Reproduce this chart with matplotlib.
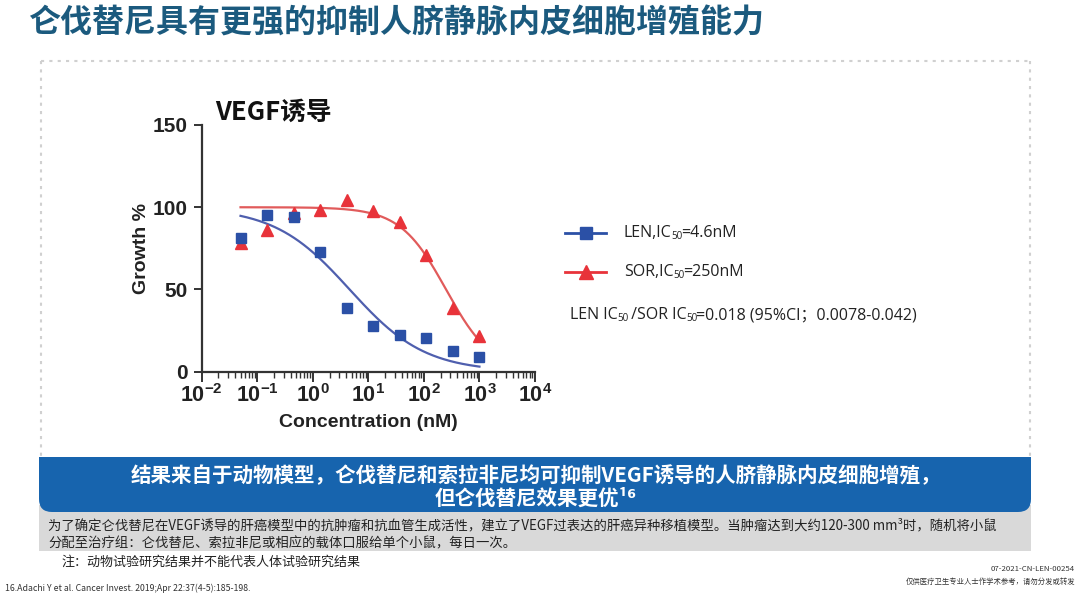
import numpy as np
import matplotlib
matplotlib.use("Agg")
import matplotlib.pyplot as plt
from matplotlib.patches import FancyBboxPatch, Rectangle
from matplotlib.ticker import FixedLocator, NullFormatter

plt.rcParams['font.family'] = ['Noto Sans CJK SC', 'DejaVu Sans']
plt.rcParams['mathtext.fontset'] = 'custom'
plt.rcParams['mathtext.rm'] = 'Liberation Sans'
plt.rcParams['mathtext.bf'] = 'Liberation Sans:bold'

# ---- data ----
conc = [0.05, 0.15, 0.45, 1.37, 4.1, 12.3, 37, 111, 333, 1000]
len_growth = [81, 95.3, 94.3, 72.6, 39, 27.8, 22.3, 20.3, 12.8, 9.1]
sor_growth = [78, 86, 96.3, 98.4, 104.5, 97.6, 90.9, 71, 39, 21.9]
# fitted curve parameters (4PL): top, bottom, IC50, hill
len_fit = dict(top=100, bottom=0, ic50=4.6, hill=0.64)
sor_fit = dict(top=100, bottom=0, ic50=250, hill=1.05)
x_ticks_exp = [-2, -1, 0, 1, 2, 3, 4]
y_ticks = [0, 50, 100, 150]

def fourpl(x, top, bottom, ic50, hill):
    return bottom + (top - bottom) / (1 + (x / ic50) ** hill)

W, H = 1080, 593
fig = plt.figure(figsize=(W / 100, H / 100), dpi=100)
fig.patch.set_facecolor('white')
renderer = fig.canvas.get_renderer()

def fx(px):
    return px / W

def fy(py):
    return 1 - py / H

def rich(x_px, y_px, segments, size, family, color='#222222'):
    """segments: list of (text, is_subscript)"""
    x = x_px
    for txt, sub in segments:
        fs = size * 0.62 if sub else size
        yy = y_px + (size * 0.32 if sub else 0)
        t = fig.text(fx(x), fy(yy), txt, fontsize=fs, color=color, ha='left',
                     va='center', family=family)
        bb = t.get_window_extent(renderer=renderer)
        x += bb.width - (1.5 if sub else 0.5)

# title
fig.text(fx(28), fy(24), '仑伐替尼具有更强的抑制人脐静脉内皮细胞增殖能力', fontsize=23,
         fontweight='bold', color='#1b5a7e', va='center', ha='left')

# dotted frame
frame_kw = dict(color='#d0d0d0', lw=1.5, ls=(0, (1.5, 2.5)), transform=fig.transFigure)
fig.add_artist(plt.Line2D([fx(41), fx(1030)], [fy(61), fy(61)], **frame_kw))
fig.add_artist(plt.Line2D([fx(41), fx(41)], [fy(61), fy(460)], **frame_kw))
fig.add_artist(plt.Line2D([fx(1030), fx(1030)], [fy(61), fy(460)], **frame_kw))

# gray box
fig.add_artist(Rectangle((fx(39), fy(551)), fx(1031) - fx(39), fy(505) - fy(551),
                         transform=fig.transFigure, facecolor='#d9d9d9', edgecolor='none'))
# blue box
fig.add_artist(FancyBboxPatch((fx(39), fy(512)), fx(1031) - fx(39), fy(457) - fy(512),
                              boxstyle='round,pad=0,rounding_size=0.012',
                              transform=fig.transFigure, facecolor='#1764ae', edgecolor='none',
                              mutation_aspect=W / H))
fig.add_artist(Rectangle((fx(39), fy(475)), fx(1031) - fx(39), fy(457) - fy(475),
                         transform=fig.transFigure, facecolor='#1764ae', edgecolor='none'))

fig.text(fx(536), fy(476), '结果来自于动物模型，仑伐替尼和索拉非尼均可抑制VEGF诱导的人脐静脉内皮细胞增殖，',
         fontsize=14.8, fontweight='bold', color='white', ha='center', va='center')
fig.text(fx(536), fy(498), '但仑伐替尼效果更优¹⁶',
         fontsize=14.8, fontweight='bold', color='white', ha='center', va='center')

fig.text(fx(48), fy(525), '为了确定仑伐替尼在VEGF诱导的肝癌模型中的抗肿瘤和抗血管生成活性，建立了VEGF过表达的肝癌异种移植模型。当肿瘤达到大约120-300 mm³时，随机将小鼠',
         fontsize=9.6, color='#222222', ha='left', va='center')
fig.text(fx(48), fy(543), '分配至治疗组：仑伐替尼、索拉非尼或相应的载体口服给单个小鼠，每日一次。',
         fontsize=9.6, color='#222222', ha='left', va='center')
fig.text(fx(62), fy(562), '注：动物试验研究结果并不能代表人体试验研究结果',
         fontsize=9.4, color='#222222', ha='left', va='center')
fig.text(fx(5), fy(588), '16.Adachi Y et al. Cancer Invest. 2019;Apr 22:37(4-5):185-198.',
         fontsize=6.3, color='#333333', ha='left', va='center')
fig.text(fx(1075), fy(569), '07-2021-CN-LEN-00254',
         fontsize=5.6, color='#333333', ha='right', va='center')
fig.text(fx(1075), fy(582), '仅供医疗卫生专业人士作学术参考，请勿分发或转发',
         fontsize=5.3, color='#333333', ha='right', va='center')

# ---- chart ----
ax = fig.add_axes([fx(201.7), fy(371.7), fx(535) - fx(201.7), fy(125) - fy(371.7)])
ax.set_xscale('log')
ax.set_xlim(10.0 ** x_ticks_exp[0], 10.0 ** x_ticks_exp[-1])
ax.set_ylim(y_ticks[0], y_ticks[-1])
ax.set_facecolor('none')
for s in ['top', 'right']:
    ax.spines[s].set_visible(False)
for s in ['left', 'bottom']:
    ax.spines[s].set_color('#333333')
    ax.spines[s].set_linewidth(1.6)

xs = np.logspace(np.log10(conc[0]), np.log10(conc[-1]), 300)
ax.plot(xs, fourpl(xs, **len_fit), color='#4f5fae', lw=1.6, zorder=2)
ax.plot(xs, fourpl(xs, **sor_fit), color='#e15b5b', lw=1.6, zorder=2)
ax.plot(conc, sor_growth, ls='none', marker='^', ms=9, color='#e8333a', zorder=3, clip_on=False)
ax.plot(conc, len_growth, ls='none', marker='s', ms=7.5, color='#2b50a6', zorder=4, clip_on=False)

ax.xaxis.set_major_locator(FixedLocator([10.0 ** e for e in x_ticks_exp]))
ax.set_xticklabels([r'$\mathbf{10^{%d}}$' % e for e in x_ticks_exp])
minors = [m * 10.0 ** e for e in x_ticks_exp[:-1] for m in range(2, 10)]
ax.xaxis.set_minor_locator(FixedLocator(minors))
ax.xaxis.set_minor_formatter(NullFormatter())
ax.set_yticks(y_ticks)
ax.set_yticklabels([str(v) for v in y_ticks])
ax.tick_params(axis='x', which='major', length=7, width=1.4, color='#333333', pad=2,
               labelsize=15.5, labelcolor='#222222')
ax.tick_params(axis='x', which='minor', length=4, width=1.0, color='#333333')
ax.tick_params(axis='y', which='major', length=6, width=1.4, color='#333333', pad=4,
               labelsize=15, labelcolor='#222222')
for lab in ax.get_yticklabels():
    lab.set_fontfamily('Liberation Sans')
    lab.set_fontweight('bold')

ax.set_xlabel('Concentration (nM)', fontsize=14, fontweight='bold', family='Liberation Sans',
              color='#222222', labelpad=5)
ax.set_ylabel('Growth %', fontsize=14, fontweight='bold', family='Liberation Sans',
              color='#222222', labelpad=2)

fig.text(fx(215), fy(112), 'VEGF诱导', fontsize=18.5, fontweight='bold', color='#111111',
         ha='left', va='center')

# legend (manual)
fam = ['Open Sans', 'Noto Sans CJK SC']
leg_y = [233, 272]
leg_segments = [
    [('LEN,IC', False), ('50', True), ('=4.6nM', False)],
    [('SOR,IC', False), ('50', True), ('=250nM', False)],
]
styles = [('#2b50a6', 's', 9), ('#e8333a', '^', 10)]
for yy, segs, (c, m, ms) in zip(leg_y, leg_segments, styles):
    fig.add_artist(plt.Line2D([fx(565), fx(606)], [fy(yy), fy(yy)], color=c, lw=2,
                              transform=fig.transFigure))
    fig.add_artist(plt.Line2D([fx(585.5)], [fy(yy)], color=c, marker=m, ms=ms,
                              transform=fig.transFigure, ls='none'))
    rich(624, yy, segs, 11.5, fam)
rich(570, 315, [('LEN IC', False), ('50', True), (' /SOR IC', False), ('50', True),
                ('=0.018 (95%CI；0.0078-0.042)', False)], 11.5, fam)

fig.savefig('out.png', dpi=100, facecolor='white')
